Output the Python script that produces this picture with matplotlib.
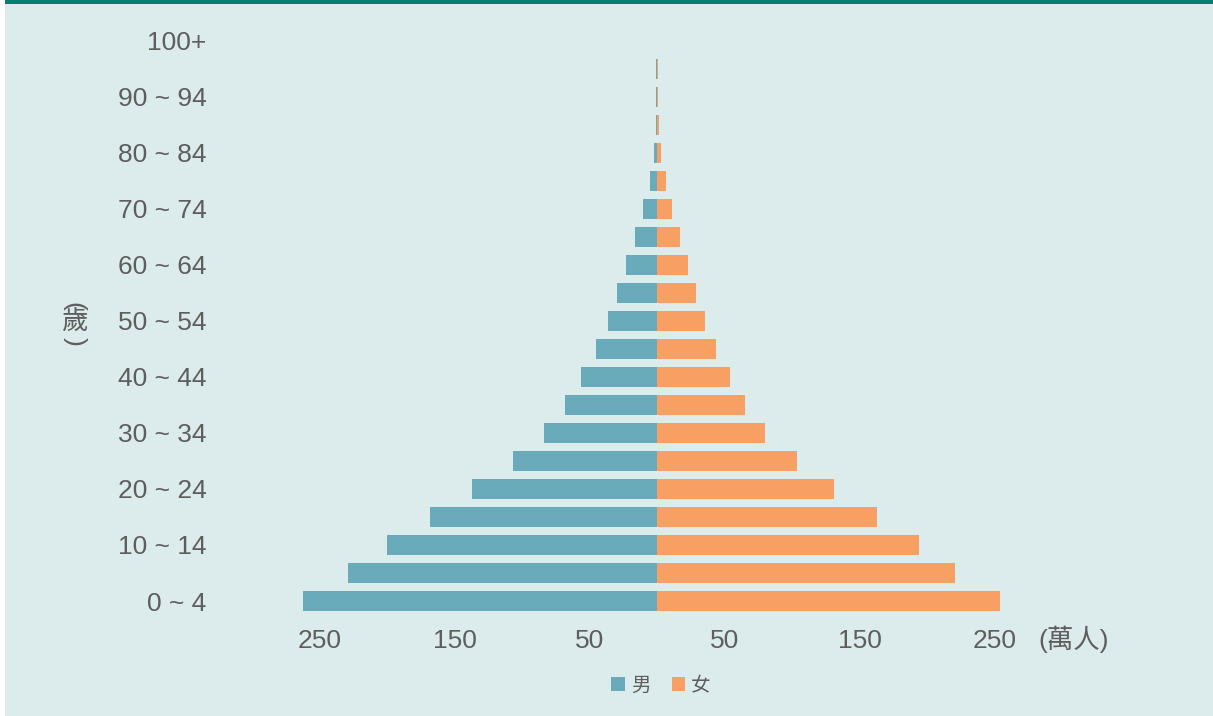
import matplotlib
matplotlib.use("Agg")
import matplotlib.pyplot as plt
from matplotlib.patches import Rectangle, Patch

plt.rcParams['font.family'] = ['Liberation Sans', 'Noto Sans CJK TC', 'DejaVu Sans']

# Age groups, youngest first
age_groups = ['0 ~ 4', '5 ~ 9', '10 ~ 14', '15 ~ 19', '20 ~ 24', '25 ~ 29',
              '30 ~ 34', '35 ~ 39', '40 ~ 44', '45 ~ 49', '50 ~ 54', '55 ~ 59',
              '60 ~ 64', '65 ~ 69', '70 ~ 74', '75 ~ 79', '80 ~ 84', '85 ~ 89',
              '90 ~ 94', '95 ~ 99', '100+']

# Population (萬人)
male = [262, 229, 200, 168, 137, 107, 84, 68, 56.5, 45.5, 36.3, 29.3,
        23, 16.3, 10.4, 5.4, 2.2, 0.6, 0.5, 0.5, 0]
female = [254, 221, 194, 163, 131, 103.5, 80.3, 65, 53.9, 43.7, 35.3, 29.2,
          23.3, 17.3, 11.4, 7.0, 3.3, 1.3, 0.5, 0.5, 0]

x_ticks = [-250, -150, -50, 50, 150, 250]
x_tick_labels = ['250', '150', '50', '50', '150', '250']
series_names = ['男', '女']

MALE_C = '#69abbb'
FEMALE_C = '#f8a063'
BG = '#dcebeb'
TEXT_C = '#5e5e5e'

W, H = 1213, 716
fig = plt.figure(figsize=(W / 100, H / 100), dpi=100, facecolor='white')

# panel background and top accent strip
fig.patches.append(Rectangle((5 / W, 0), 1, 1, transform=fig.transFigure,
                             facecolor=BG, edgecolor='none', zorder=-10))
fig.patches.append(Rectangle((5 / W, 1 - 4 / H), 1, 4 / H, transform=fig.transFigure,
                             facecolor='#077e74', edgecolor='none', zorder=-9))

ax = fig.add_axes([290 / W, (H - 625) / H, 740 / W, 595 / H])
ax.set_facecolor('none')

y = list(range(len(age_groups)))
ax.barh(y, [-v for v in male], height=0.73, color=MALE_C, linewidth=0)
ax.barh(y, female, height=0.73, color=FEMALE_C, linewidth=0)

ax.set_xlim((290 - 657) / 1.35, (1030 - 657) / 1.35)
ax.set_ylim(-0.857, 20.39)

for s in ax.spines.values():
    s.set_visible(False)

ax.set_yticks(y[::2])
ax.set_yticklabels(age_groups[::2])
ax.tick_params(axis='y', length=0, pad=60, labelsize=19, labelcolor=TEXT_C)

ax.set_xticks(x_ticks)
ax.set_xticklabels(x_tick_labels)
ax.tick_params(axis='x', length=0, pad=3, labelsize=19, labelcolor=TEXT_C)

# unit label for the x axis
fig.text(1038 / W, (H - 639) / H, '(萬人)', fontsize=19, color=TEXT_C,
         ha='left', va='center')

# vertical axis title: (歲) written top to bottom, parentheses turned sideways
cx = 75 / W
fig.text(cx - 1.5 / W, (H - 306) / H, '(', fontsize=19, color=TEXT_C, rotation=-90,
         ha='center', va='center')
fig.text(cx, (H - 323) / H, '歲', fontsize=19, color=TEXT_C,
         ha='center', va='center')
fig.text(cx, (H - 341) / H, ')', fontsize=19, color=TEXT_C, rotation=-90,
         ha='center', va='center')

handles = [Patch(facecolor=MALE_C, edgecolor='none'),
           Patch(facecolor=FEMALE_C, edgecolor='none')]
leg = fig.legend(handles, series_names, loc='center',
                 bbox_to_anchor=(661 / W, (H - 686) / H), ncol=2, frameon=False,
                 handlelength=0.7, handleheight=0.7, handletextpad=0.3,
                 columnspacing=1.1, fontsize=14)
for t in leg.get_texts():
    t.set_color(TEXT_C)

fig.savefig('out.png', dpi=100, facecolor=fig.get_facecolor())
